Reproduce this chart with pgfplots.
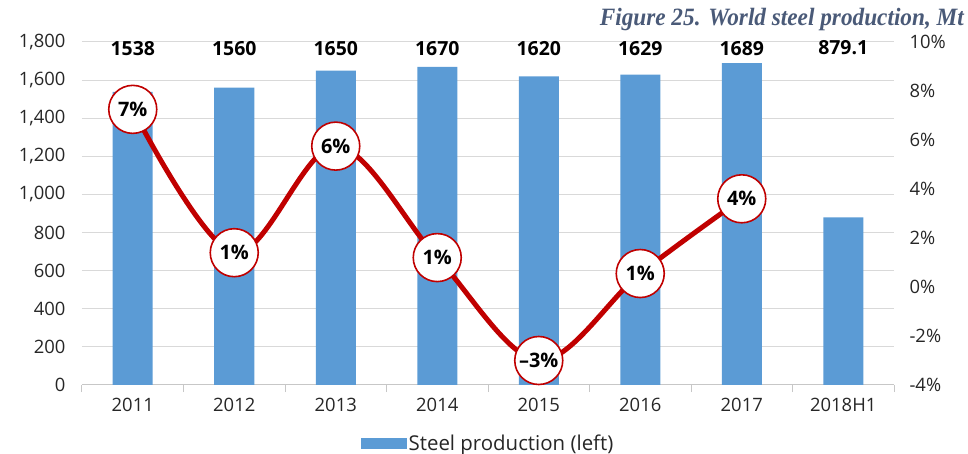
\documentclass[border=0pt]{standalone}
\usepackage{pgfplots}
\pgfplotsset{compat=1.18}
\usepackage{pgfplotstable}
\usepackage{fontspec}
\setmainfont{Open Sans}
\newfontfamily\titlefont{Liberation Serif}

\definecolor{barblue}{HTML}{5B9BD5}
\definecolor{linered}{HTML}{C00000}
\definecolor{gridgray}{HTML}{D9D9D9}
\definecolor{titleblue}{HTML}{4A5A78}
\definecolor{ticktext}{HTML}{262626}

% world steel production, Mt
\pgfplotstableread{
x prod lab
0 1538 1538
1 1560 1560
2 1650 1650
3 1670 1670
4 1620 1620
5 1629 1629
6 1689 1689
7 879.1 879.1
}\prodtable

% y/y growth, %
\pgfplotstableread{
x g lab
0 7.25 7\%
1 1.4 1\%
2 5.75 6\%
3 1.2 1\%
4 -3.0 –3\%
5 0.55 1\%
6 3.6 4\%
}\growthtable

\begin{document}
\begin{tikzpicture}
\begin{axis}[
    name=main,
    scale only axis, width=812bp, height=343bp,
    xmin=-0.5, xmax=7.5, ymin=0, ymax=1800,
    xtick={0,...,7},
    xticklabels={2011,2012,2013,2014,2015,2016,2017,2018H1},
    minor xtick={-0.5,0.5,...,7.5},
    ytick={0,200,...,1800},
    yticklabels={0,200,400,600,800,{1,000},{1,200},{1,400},{1,600},{1,800}},
    major tick length=0pt, minor tick length=7bp,
    tick align=outside,
    every minor tick/.append style={gridgray!80!gray, line width=1bp},
    axis x line*=bottom, axis y line*=left,
    y axis line style={draw=none},
    x axis line style={gridgray!80!gray, line width=1bp},
    ymajorgrids, grid style={gridgray, line width=1bp},
    tick label style={font=\fontsize{18.5}{21}\selectfont, text=ticktext},
    yticklabel style={xshift=-13bp},
    xticklabel style={yshift=-10bp},
    legend style={at={(0.5,-0.17)}, anchor=center, draw=none, fill=none,
        font=\fontsize{20.5}{23}\selectfont, text=ticktext,
        inner sep=0pt},
    legend cell align=left,
]
\addplot[ybar, bar width=40bp, fill=barblue, draw=none,
    legend image code/.code={\fill[barblue] (0bp,-5.5bp) rectangle (46bp,5.5bp);}]
    table[x=x, y=prod] {\prodtable};
\addlegendentry{Steel production (left)}
\addplot[draw=none, forget plot, nodes near coords, point meta=explicit symbolic,
    nodes near coords style={anchor=center, text=black,
        font=\bfseries\fontsize{19.5}{22}\selectfont}]
    table[x=x, y expr=1768, meta=lab] {\prodtable};
\end{axis}

\begin{axis}[
    scale only axis, width=812bp, height=343bp,
    xmin=-0.5, xmax=7.5, ymin=-4, ymax=10,
    axis x line=none, axis y line*=right,
    y axis line style={draw=none},
    ytick={-4,-2,...,10},
    yticklabels={-4\%,-2\%,0\%,2\%,4\%,6\%,8\%,10\%},
    major tick length=0pt,
    tick label style={font=\fontsize{18.5}{21}\selectfont, text=ticktext},
    yticklabel style={anchor=west, xshift=12bp},
    clip=false,
]
\addplot[smooth, tension=0.55, linered, line width=5bp,
    nodes near coords, point meta=explicit symbolic,
    nodes near coords style={anchor=center, circle, draw=linered, line width=1.6bp,
        fill=white, minimum size=48bp, inner sep=0pt, text=black,
        font=\bfseries\fontsize{20}{22}\selectfont}]
    table[x=x, y=g, meta=lab] {\growthtable};
\end{axis}

\begin{scope}[shift={(main.south west)}]
\node[anchor=base east, text=titleblue, inner sep=0pt,
    font=\titlefont\bfseries\itshape\fontsize{25}{28}\selectfont]
    at (882bp,359bp) {\resizebox{364bp}{\height}{Figure 25. World steel production, Mt}};
\path[use as bounding box] (-82bp,-66bp) rectangle (886bp,385bp);
\end{scope}
\end{tikzpicture}
\end{document}
